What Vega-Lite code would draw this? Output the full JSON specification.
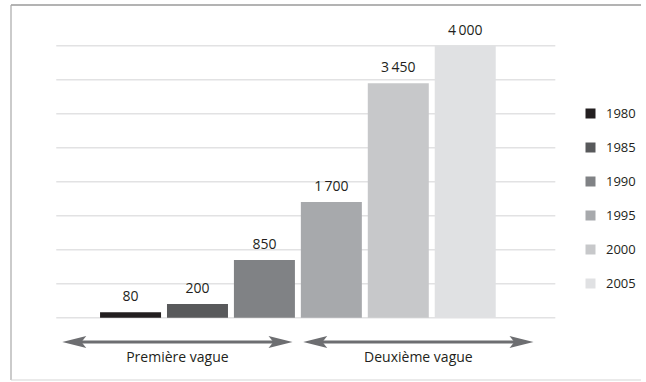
{
  "$schema": "https://vega.github.io/schema/vega-lite/v6.json",
  "width": 640,
  "height": 375,
  "autosize": {"type": "none"},
  "padding": {"left": 6, "top": 5, "right": 0, "bottom": 2},
  "background": "white",
  "config": {
    "view": {"stroke": null},
    "font": "Open Sans"
  },
  "datasets": {
    "bars": [
      {"year": 1980, "value": 80, "label": "80"},
      {"year": 1985, "value": 200, "label": "200"},
      {"year": 1990, "value": 850, "label": "850"},
      {"year": 1995, "value": 1700, "label": "1\u2009700"},
      {"year": 2000, "value": 3450, "label": "3\u2009450"},
      {"year": 2005, "value": 4000, "label": "4\u2009000"}
    ],
    "grid": [
      {"v": 0}, {"v": 500}, {"v": 1000}, {"v": 1500}, {"v": 2000},
      {"v": 2500}, {"v": 3000}, {"v": 3500}, {"v": 4000}
    ],
    "waves": [
      {"wave": "Première vague", "start": 1974.9, "end": 1992.1, "mid": 1983.5},
      {"wave": "Deuxième vague", "start": 1992.9, "end": 2010.1, "mid": 2001.5}
    ],
    "frame": [
      {"top": 4599, "bottom": -916, "left": 1971.07, "right": 2018.13}
    ]
  },
  "layer": [
    {
      "data": {"name": "grid"},
      "mark": {"type": "rule", "color": "#e2e2e3", "strokeWidth": 1.6},
      "encoding": {
        "y": {"field": "v", "type": "quantitative", "scale": {"domain": [-916, 4599], "nice": false, "zero": false}, "axis": null},
        "x": {"datum": 1974.45, "type": "quantitative", "scale": {"domain": [1971.07, 2018.13], "nice": false, "zero": false}, "axis": null},
        "x2": {"datum": 2011.73}
      }
    },
    {
      "data": {"name": "frame"},
      "mark": {"type": "rule", "color": "#9a9a9a", "strokeWidth": 1.5},
      "encoding": {
        "y": {"field": "top", "type": "quantitative"},
        "x": {"field": "left", "type": "quantitative"},
        "x2": {"field": "right"}
      }
    },
    {
      "data": {"name": "frame"},
      "mark": {"type": "rule", "color": "#a8a8a8", "strokeWidth": 1.2},
      "encoding": {
        "x": {"field": "left", "type": "quantitative"},
        "y": {"field": "top", "type": "quantitative"},
        "y2": {"field": "bottom"}
      }
    },
    {
      "data": {"name": "frame"},
      "mark": {"type": "rule", "color": "#d6d6d6", "strokeWidth": 1.2},
      "encoding": {
        "y": {"field": "bottom", "type": "quantitative"},
        "x": {"field": "left", "type": "quantitative"},
        "x2": {"field": "right"}
      }
    },
    {
      "data": {"name": "bars"},
      "mark": {"type": "bar", "width": 61},
      "encoding": {
        "x": {"field": "year", "type": "quantitative"},
        "y": {"field": "value", "type": "quantitative"},
        "y2": {"datum": 0},
        "color": {
          "field": "year",
          "type": "ordinal",
          "scale": {"range": ["#231f20", "#58595b", "#808285", "#a7a9ac", "#c7c8ca", "#e0e1e3"]},
          "legend": {
            "orient": "none",
            "legendX": 578,
            "legendY": 102,
            "title": null,
            "symbolType": "square",
            "symbolSize": 100,
            "symbolStrokeWidth": 0,
            "labelFontSize": 13,
            "labelFont": "Open Sans",
            "labelColor": "#231f20",
            "rowPadding": 20,
            "labelOffset": 9,
            "padding": 0
          }
        }
      }
    },
    {
      "data": {"name": "bars"},
      "mark": {"type": "text", "dy": -11, "baseline": "alphabetic", "fontSize": 14, "color": "#231f20"},
      "encoding": {
        "x": {"field": "year", "type": "quantitative"},
        "y": {"field": "value", "type": "quantitative"},
        "text": {"field": "label"}
      }
    },
    {
      "data": {"name": "waves"},
      "mark": {"type": "rule", "strokeWidth": 3, "color": "#6d6e71", "xOffset": 8, "x2Offset": -8},
      "encoding": {
        "x": {"field": "start", "type": "quantitative"},
        "x2": {"field": "end"},
        "y": {"datum": -357}
      }
    },
    {
      "data": {"name": "waves"},
      "mark": {"type": "point", "shape": "M0,0L4,-1L3.2,0L4,1Z", "size": 144, "filled": true, "opacity": 1, "color": "#6d6e71", "strokeWidth": 0},
      "encoding": {
        "x": {"field": "start", "type": "quantitative"},
        "y": {"datum": -357}
      }
    },
    {
      "data": {"name": "waves"},
      "mark": {"type": "point", "shape": "M0,0L-4,-1L-3.2,0L-4,1Z", "size": 144, "filled": true, "opacity": 1, "color": "#6d6e71", "strokeWidth": 0},
      "encoding": {
        "x": {"field": "end", "type": "quantitative"},
        "y": {"datum": -357}
      }
    },
    {
      "data": {"name": "waves"},
      "mark": {"type": "text", "baseline": "alphabetic", "fontSize": 14, "color": "#231f20"},
      "encoding": {
        "x": {"field": "mid", "type": "quantitative"},
        "y": {"datum": -647},
        "text": {"field": "wave"}
      }
    }
  ]
}
